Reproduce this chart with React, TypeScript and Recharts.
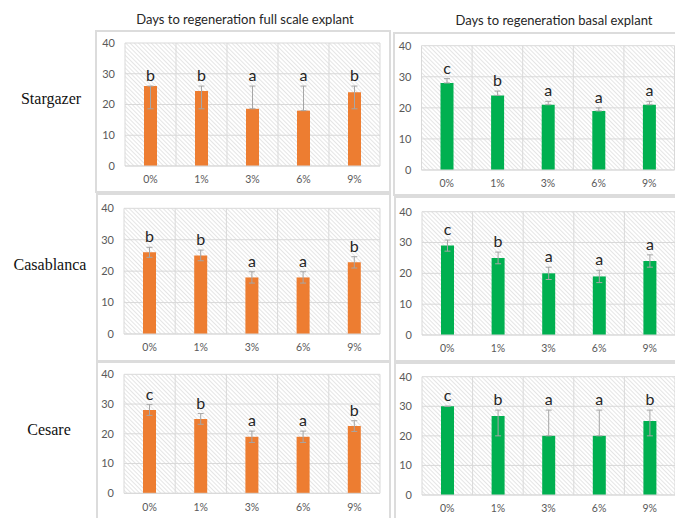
import React from "react";
import {
  BarChart,
  Bar,
  XAxis,
  YAxis,
  CartesianGrid,
  ErrorBar,
  LabelList,
} from "recharts";

const concentrations = ["0%", "1%", "3%", "6%", "9%"];
const yTicks = [0, 10, 20, 30, 40];

// Stargazer
const stargazerFullMean = [26, 24.4, 18.6, 18, 24];
const stargazerFullMinus = [7.4, 5.8, 0, 0, 5.4];
const stargazerFullPlus = [0, 1.6, 7.4, 8, 2];
const stargazerFullLetters = ["b", "b", "a", "a", "b"];

const stargazerBasalMean = [28, 24, 21, 19, 21];
const stargazerBasalMinus = [0, 0, 0, 0, 0];
const stargazerBasalPlus = [1.4, 1.4, 1.1, 1.0, 1.1];
const stargazerBasalLetters = ["c", "b", "a", "a", "a"];

// Casablanca
const casablancaFullMean = [26, 25, 18, 18, 22.8];
const casablancaFullMinus = [1.6, 1.7, 1.8, 1.8, 1.8];
const casablancaFullPlus = [1.6, 1.7, 1.8, 1.8, 1.8];
const casablancaFullLetters = ["b", "b", "a", "a", "b"];

const casablancaBasalMean = [29, 25, 20, 19, 24];
const casablancaBasalMinus = [1.8, 1.9, 2, 2, 2];
const casablancaBasalPlus = [1.8, 1.9, 2, 2, 2];
const casablancaBasalLetters = ["c", "b", "a", "a", "a"];

// Cesare
const cesareFullMean = [28, 25, 19, 19, 22.6];
const cesareFullMinus = [1.8, 1.8, 1.9, 1.9, 1.8];
const cesareFullPlus = [1.8, 1.8, 1.9, 1.9, 1.8];
const cesareFullLetters = ["c", "b", "a", "a", "b"];

const cesareBasalMean = [30, 26.7, 20, 20, 25];
const cesareBasalMinus = [0, 6.7, 0, 0, 5];
const cesareBasalPlus = [0, 2, 8.7, 8.7, 3.7];
const cesareBasalLetters = ["c", "b", "a", "a", "b"];

const ORANGE = "#ED7D31";
const GREEN = "#00B050";
const FONT = "Lato, 'Open Sans', sans-serif";

const Y_AXIS_W = 26;
const X_AXIS_H = 22;

type Box = { x: number; y: number; w: number; h: number };
type Plot = { x: number; y: number; w: number; h: number };

interface PanelProps {
  id: string;
  box: Box;
  plot: Plot;
  color: string;
  mean: number[];
  minus: number[];
  plus: number[];
  letters: string[];
}

const Panel: React.FC<PanelProps> = ({ id, box, plot, color, mean, minus, plus, letters }) => {
  const rows = concentrations.map((name, i) => ({
    name,
    mean: mean[i],
    err: [minus[i], plus[i]],
    letter: letters[i],
  }));

  const margin = {
    left: plot.x - box.x - Y_AXIS_W,
    top: plot.y - box.y,
    right: box.w - (plot.x - box.x) - plot.w,
    bottom: box.h - (plot.y - box.y) - plot.h - X_AXIS_H,
  };

  // significance letter sits just above the whisker top
  const renderLetter = (props: any) => {
    const vb = props.viewBox ?? props;
    const { x, y, width, height } = vb;
    const i = props.index ?? 0;
    const perUnit = height / mean[i];
    const top = y - plus[i] * perUnit;
    return (
      <text
        x={x + width / 2}
        y={top - 5}
        textAnchor="middle"
        fontSize={16}
        fontFamily={FONT}
        fill="#262626"
      >
        {letters[i]}
      </text>
    );
  };

  return (
    <div
      style={{
        position: "absolute",
        left: box.x,
        top: box.y,
        width: box.w,
        height: box.h,
        border: "2px solid #dcdcdc",
        boxSizing: "border-box",
      }}
    >
      <div style={{ position: "absolute", left: -2, top: -2 }}>
        <BarChart width={box.w} height={box.h} data={rows} margin={margin}>
          <defs>
            <pattern
              id={`hatch-${id}`}
              width="3"
              height="3"
              patternUnits="userSpaceOnUse"
              patternTransform="rotate(-45)"
            >
              <rect width="3" height="3" fill="#ffffff" />
              <line x1="0" y1="0" x2="0" y2="3" stroke="#cbcbcb" strokeWidth="1" />
            </pattern>
          </defs>
          <CartesianGrid
            fill={`url(#hatch-${id})`}
            fillOpacity={1}
            stroke="#d9d9d9"
            verticalCoordinatesGenerator={({ offset }: any) =>
              concentrations
                .map((_, i) => offset.left + (i * offset.width) / concentrations.length)
                .concat(offset.left + offset.width)
            }
          />
          <XAxis
            dataKey="name"
            height={X_AXIS_H}
            axisLine={{ stroke: "#d9d9d9" }}
            tickLine={false}
            tickMargin={4}
            tick={{ fontSize: 10.5, fill: "#595959", fontFamily: FONT }}
          />
          <YAxis
            width={Y_AXIS_W}
            domain={[0, 40]}
            ticks={yTicks}
            axisLine={false}
            tickLine={false}
            tickMargin={4}
            tick={{ fontSize: 11, fill: "#595959", fontFamily: FONT }}
          />
          <Bar dataKey="mean" fill={color} barSize={13} isAnimationActive={false}>
            <ErrorBar
              dataKey="err"
              direction="y"
              width={3}
              stroke="#a6a6a6"
              strokeWidth={1}
              isAnimationActive={false}
            />
            <LabelList dataKey="letter" content={renderLetter} />
          </Bar>
        </BarChart>
      </div>
    </div>
  );
};

const rowLabel: React.CSSProperties = {
  position: "absolute",
  width: 100,
  marginLeft: -50,
  textAlign: "center",
  fontFamily: "'Liberation Serif', 'Times New Roman', serif",
  fontSize: 16,
  color: "#111",
  lineHeight: "20px",
};

const colTitle: React.CSSProperties = {
  position: "absolute",
  width: 300,
  marginLeft: -150,
  textAlign: "center",
  fontFamily: FONT,
  fontSize: 13,
  color: "#262626",
  lineHeight: "16px",
};

export default function App() {
  return (
    <div
      style={{
        position: "absolute",
        left: 0,
        top: 0,
        width: 675,
        height: 518,
        background: "#ffffff",
        overflow: "hidden",
      }}
    >
      <div style={{ ...colTitle, left: 245, top: 11 }}>Days to regeneration full scale explant</div>
      <div style={{ ...colTitle, left: 554, top: 12 }}>Days to regeneration basal explant</div>

      <div style={{ ...rowLabel, left: 51, top: 89 }}>Stargazer</div>
      <div style={{ ...rowLabel, left: 50, top: 255 }}>Casablanca</div>
      <div style={{ ...rowLabel, left: 49, top: 420 }}>Cesare</div>

      <Panel
        id="sf"
        box={{ x: 95, y: 30, w: 296, h: 163 }}
        plot={{ x: 125, y: 43, w: 255, h: 123 }}
        color={ORANGE}
        mean={stargazerFullMean}
        minus={stargazerFullMinus}
        plus={stargazerFullPlus}
        letters={stargazerFullLetters}
      />
      <Panel
        id="sb"
        box={{ x: 393, y: 32, w: 290, h: 164 }}
        plot={{ x: 421.5, y: 45.7, w: 253, h: 124.3 }}
        color={GREEN}
        mean={stargazerBasalMean}
        minus={stargazerBasalMinus}
        plus={stargazerBasalPlus}
        letters={stargazerBasalLetters}
      />
      <Panel
        id="cf"
        box={{ x: 96, y: 193, w: 295, h: 169 }}
        plot={{ x: 124, y: 208.3, w: 256, h: 125.7 }}
        color={ORANGE}
        mean={casablancaFullMean}
        minus={casablancaFullMinus}
        plus={casablancaFullPlus}
        letters={casablancaFullLetters}
      />
      <Panel
        id="cb"
        box={{ x: 394, y: 196, w: 290, h: 166 }}
        plot={{ x: 422, y: 211.7, w: 253, h: 123.3 }}
        color={GREEN}
        mean={casablancaBasalMean}
        minus={casablancaBasalMinus}
        plus={casablancaBasalPlus}
        letters={casablancaBasalLetters}
      />
      <Panel
        id="ef"
        box={{ x: 96, y: 361, w: 295, h: 160 }}
        plot={{ x: 124, y: 374.3, w: 256, h: 119 }}
        color={ORANGE}
        mean={cesareFullMean}
        minus={cesareFullMinus}
        plus={cesareFullPlus}
        letters={cesareFullLetters}
      />
      <Panel
        id="eb"
        box={{ x: 394, y: 362, w: 290, h: 160 }}
        plot={{ x: 422, y: 376.7, w: 253, h: 118.3 }}
        color={GREEN}
        mean={cesareBasalMean}
        minus={cesareBasalMinus}
        plus={cesareBasalPlus}
        letters={cesareBasalLetters}
      />
    </div>
  );
}
